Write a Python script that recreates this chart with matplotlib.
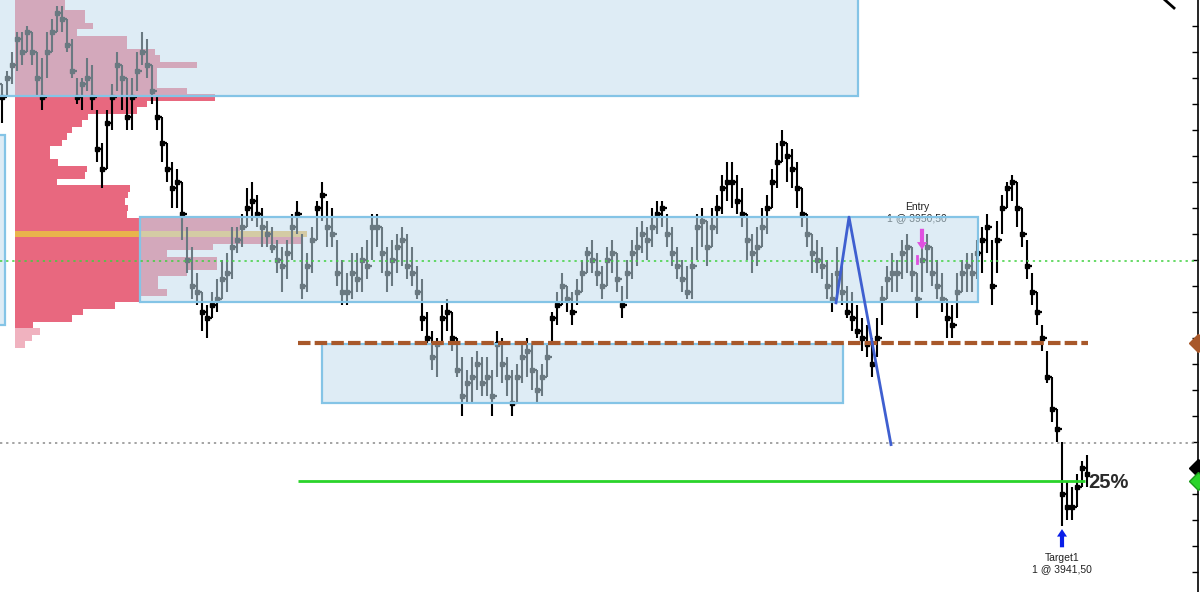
import numpy as np
import matplotlib
matplotlib.use('Agg')
import matplotlib.pyplot as plt
from matplotlib.patches import Rectangle
from matplotlib.lines import Line2D

plt.rcParams['font.family'] = ['Liberation Sans', 'DejaVu Sans']

# ---- price bars (ES, tick 0.25) ----
high = [3956.75, 3957.25, 3958.0, 3958.75, 3958.75, 3959.0, 3958.75, 3958.0, 3957.75, 3958.75,
        3959.25, 3959.75, 3959.75, 3959.25, 3958.5, 3957.0, 3957.0, 3957.75, 3957.5, 3955.75,
        3954.5, 3955.75, 3956.75, 3958.0, 3957.5, 3957.0, 3957.0, 3958.0, 3958.75, 3958.5,
        3957.5, 3956.25, 3955.5, 3954.5, 3953.75, 3953.5, 3953.0, 3951.25, 3950.5, 3949.5,
        3948.75, 3948.25, 3948.75, 3949.25, 3950.0, 3950.25, 3951.25, 3951.25, 3951.75, 3952.75,
        3953.0, 3952.5, 3952.0, 3951.5, 3951.25, 3950.75, 3950.5, 3950.75, 3951.75, 3952.25,
        3951.0, 3950.25, 3951.25, 3952.25, 3953.0, 3952.25, 3952.0, 3950.75, 3950.0, 3949.5,
        3950.25, 3950.25, 3950.5, 3950.75, 3951.75, 3951.75, 3951.25, 3950.5, 3950.75, 3951.0,
        3951.25, 3951.0, 3950.5, 3949.75, 3949.25, 3948.0, 3947.25, 3947.0, 3948.25, 3948.5,
        3948.0, 3947.0, 3946.25, 3945.75, 3946.25, 3946.5, 3946.25, 3946.25, 3945.75, 3947.25,
        3947.0, 3946.25, 3945.75, 3946.0, 3946.75, 3947.0, 3946.75, 3945.75, 3946.0, 3946.75,
        3948.0, 3948.75, 3949.5, 3949.0, 3948.75, 3949.25, 3950.0, 3950.5, 3950.75, 3950.25,
        3949.75, 3950.5, 3950.75, 3950.25, 3949.0, 3950.0, 3950.75, 3951.25, 3951.5, 3951.25,
        3952.0, 3952.25, 3952.25, 3951.75, 3951.25, 3950.5, 3950.0, 3949.75, 3950.5, 3951.75,
        3952.0, 3951.5, 3952.0, 3952.5, 3953.25, 3953.75, 3953.75, 3953.25, 3952.75, 3951.75,
        3951.0, 3951.25, 3952.0, 3952.5, 3953.5, 3954.5, 3955.0, 3954.5, 3954.25, 3953.75,
        3952.75, 3951.75, 3951.0, 3950.75, 3950.5, 3950.0, 3949.5, 3950.5, 3949.75, 3949.0,
        3948.75, 3948.25, 3947.75, 3947.5, 3947.0, 3947.75, 3949.0, 3949.75, 3950.25, 3950.0,
        3950.75, 3951.0, 3950.5, 3949.5, 3950.5, 3951.0, 3950.5, 3950.0, 3949.5, 3948.5,
        3948.25, 3949.5, 3950.0, 3950.25, 3950.25, 3950.75, 3951.25, 3951.75, 3950.75, 3951.5,
        3952.5, 3953.0, 3953.25, 3953.0, 3952.0, 3950.75, 3949.5, 3948.75, 3947.5, 3946.5,
        3945.5, 3944.25, 3943.0, 3941.5, 3941.25, 3941.75, 3942.25, 3942.5]
low = [3955.25, 3956.25, 3956.75, 3957.25, 3957.5, 3958.0, 3957.5, 3956.25, 3955.75, 3957.0,
       3958.0, 3958.75, 3958.75, 3958.0, 3957.0, 3956.0, 3955.75, 3956.5, 3955.75, 3953.75,
       3952.75, 3953.5, 3955.0, 3956.5, 3955.75, 3955.0, 3955.0, 3956.5, 3957.5, 3957.0,
       3956.0, 3955.0, 3953.75, 3953.0, 3952.0, 3952.0, 3950.75, 3949.5, 3948.5, 3948.25,
       3947.25, 3947.0, 3947.75, 3948.0, 3948.5, 3948.75, 3949.25, 3950.25, 3950.5, 3951.25,
       3951.5, 3951.25, 3950.5, 3950.5, 3950.25, 3949.5, 3948.75, 3949.25, 3950.0, 3951.0,
       3948.5, 3948.75, 3949.5, 3950.75, 3951.5, 3950.5, 3950.5, 3949.0, 3948.25, 3948.25,
       3948.5, 3948.75, 3948.75, 3949.25, 3950.0, 3950.5, 3949.5, 3948.75, 3949.0, 3949.5,
       3949.75, 3949.25, 3949.0, 3948.5, 3947.25, 3946.75, 3945.75, 3945.5, 3946.75, 3947.25,
       3946.5, 3945.5, 3944.0, 3944.5, 3944.5, 3945.0, 3944.75, 3944.75, 3944.0, 3945.5,
       3945.25, 3944.75, 3944.0, 3944.5, 3945.25, 3945.5, 3945.0, 3944.5, 3944.75, 3945.5,
       3946.75, 3947.5, 3948.25, 3948.0, 3947.5, 3948.25, 3948.75, 3949.5, 3949.5, 3949.0,
       3948.5, 3949.0, 3949.5, 3948.75, 3947.75, 3948.5, 3949.25, 3949.75, 3950.25, 3950.0,
       3950.5, 3951.0, 3951.25, 3950.5, 3949.75, 3949.25, 3948.75, 3948.5, 3948.5, 3950.0,
       3950.5, 3949.75, 3950.5, 3951.0, 3951.75, 3952.25, 3952.0, 3951.75, 3951.25, 3950.0,
       3949.5, 3949.75, 3950.5, 3951.0, 3952.0, 3952.75, 3953.75, 3953.0, 3952.75, 3952.0,
       3951.25, 3950.5, 3949.5, 3949.5, 3949.25, 3948.5, 3948.0, 3948.5, 3948.25, 3947.75,
       3947.25, 3947.0, 3946.5, 3946.25, 3945.5, 3946.25, 3947.5, 3948.5, 3948.75, 3948.75,
       3949.25, 3949.5, 3948.75, 3947.75, 3948.75, 3949.5, 3949.0, 3948.5, 3948.0, 3947.0,
       3947.0, 3947.75, 3948.75, 3948.75, 3948.75, 3949.25, 3949.5, 3950.25, 3948.25, 3949.5,
       3951.0, 3952.0, 3952.25, 3951.25, 3950.5, 3949.25, 3948.25, 3947.5, 3946.5, 3945.25,
       3943.75, 3943.0, 3939.75, 3940.0, 3940.0, 3940.5, 3941.25, 3941.25]
close = [3956.25, 3957.0, 3957.5, 3958.5, 3958.0, 3958.75, 3958.0, 3957.0, 3956.25, 3958.0,
         3958.75, 3959.5, 3959.25, 3958.25, 3957.25, 3956.25, 3956.75, 3957.0, 3956.25, 3954.25,
         3953.5, 3955.25, 3956.25, 3957.5, 3957.0, 3955.5, 3956.25, 3957.25, 3958.0, 3957.5,
         3956.5, 3955.5, 3954.5, 3953.5, 3952.75, 3953.0, 3951.75, 3950.0, 3949.0, 3948.75,
         3948.0, 3947.75, 3948.25, 3948.5, 3949.25, 3949.5, 3950.5, 3950.75, 3951.25, 3952.0,
         3952.25, 3951.75, 3951.25, 3951.0, 3950.5, 3950.0, 3949.75, 3950.25, 3951.25, 3951.75,
         3949.0, 3949.75, 3950.75, 3952.0, 3952.5, 3951.25, 3951.0, 3949.5, 3948.75, 3948.75,
         3949.5, 3949.25, 3950.0, 3949.75, 3951.25, 3951.25, 3950.25, 3949.5, 3950.0, 3950.5,
         3950.75, 3949.75, 3949.5, 3948.75, 3947.75, 3947.0, 3946.25, 3946.75, 3947.75, 3948.0,
         3947.0, 3945.75, 3944.75, 3945.25, 3945.5, 3946.0, 3945.25, 3945.5, 3944.75, 3946.75,
         3946.0, 3945.5, 3944.5, 3945.5, 3946.25, 3946.5, 3945.75, 3945.0, 3945.5, 3946.25,
         3947.75, 3948.25, 3949.0, 3948.5, 3948.0, 3948.75, 3949.5, 3950.25, 3950.0, 3949.5,
         3949.0, 3950.0, 3950.25, 3949.25, 3948.25, 3949.5, 3950.25, 3950.5, 3951.0, 3950.75,
         3951.25, 3951.75, 3952.0, 3951.0, 3950.25, 3949.75, 3949.25, 3948.75, 3949.75, 3951.25,
         3951.5, 3950.5, 3951.25, 3952.0, 3952.75, 3953.0, 3953.0, 3952.25, 3951.75, 3950.75,
         3950.25, 3950.5, 3951.25, 3952.0, 3953.0, 3953.75, 3954.5, 3954.0, 3953.5, 3952.75,
         3951.75, 3951.0, 3950.25, 3950.0, 3949.75, 3949.0, 3948.5, 3949.5, 3948.75, 3948.0,
         3947.75, 3947.25, 3947.0, 3946.75, 3946.0, 3947.0, 3948.5, 3949.25, 3949.5, 3949.5,
         3950.25, 3950.5, 3949.5, 3948.5, 3950.0, 3950.5, 3949.5, 3949.0, 3948.5, 3947.75,
         3947.5, 3948.75, 3949.5, 3949.75, 3949.5, 3950.25, 3950.75, 3951.25, 3949.0, 3950.75,
         3952.0, 3952.75, 3953.0, 3952.0, 3951.0, 3949.75, 3948.75, 3948.0, 3947.0, 3945.5,
         3944.25, 3943.5, 3941.0, 3940.5, 3940.5, 3941.25, 3942.0, 3941.75]

# ---- volume profile, one row per tick from 3960.00 down ----
profile_top = 3960.0
profile_vol = [50, 50, 70, 70, 78, 62, 112, 112, 140, 145, 182, 142, 142, 142, 172, 200, 132, 122,
               73, 67, 57, 52, 47, 35, 35, 43, 72, 70, 42, 115, 113, 110, 113, 112, 225, 225,
               292, 287, 198, 152, 202, 202, 172, 143, 143, 152, 125, 100, 68, 57, 18, 25, 17, 10]
value_area_low = 3947.5

# ---- zones (x0 bar, x1 bar, price low, price high) ----
zones = [(-6, 171.2, 3956.3, 3961.0),
         (27.6, 195.2, 3948.4, 3951.65),
         (64.0, 168.2, 3944.5, 3946.75),
         (-6, 0.6, 3947.5, 3954.8)]

brown_level = 3946.8
green_target = 3941.5
green_dotted = 3949.95
gray_dotted = 3942.95
zigzag_x = [166.8, 169.4, 177.8]
zigzag_y = [3948.35, 3951.65, 3942.9]
entry_bar, entry_price = 184, 3950.50
target_bar, target_price = 212, 3941.50

fig = plt.figure(figsize=(12, 5.92), dpi=100)
ax = fig.add_axes([0, 0, 1198 / 1200, 1])
ax.set_xlim(-0.4, 239.2)
ax.set_ylim(3960 - 592 / 26, 3960.0)

# profile
levels = profile_top - 0.25 * np.arange(len(profile_vol))
vol = np.array(profile_vol)
cols = ['#e8687f' if p >= value_area_low else '#f0b2bf' for p in levels]
poc = int(np.argmax(vol))
cols[poc] = '#e9b44c'
ax.barh(levels, vol / 5.0, left=2.6, height=0.25, color=cols, zorder=1)

# bars
xs = np.arange(len(close))
opens = [high[0]] + close[:-1]
ax.vlines(xs, low, high, color='black', lw=1.5, zorder=2)
ax.hlines(opens, xs - 0.35, xs, color='black', lw=1.6, zorder=2)
ax.plot(xs, close, 's', ms=2.2, color='black', zorder=2)

# zones
for x0, x1, y0, y1 in zones:
    ax.add_patch(Rectangle((x0, y0), x1 - x0, y1 - y0, facecolor=(195/255, 222/255, 237/255, 0.55),
                           edgecolor='#84c4e6', lw=1.6, zorder=3))

# levels
ax.axhline(green_dotted, color='#3fd13f', lw=1.1, ls=(0, (1.5, 2.5)), zorder=4)
ax.axhline(gray_dotted, color='#8a8a8a', lw=1.1, ls=(0, (1.5, 2.5)), zorder=4)
ax.hlines(brown_level, 59.2, 217.2, color='#a8582a', lw=3.0, ls=(0, (3, 1.0)), zorder=4)
ax.hlines(green_target, 59.2, 216.6, color='#2ad42a', lw=2.0, zorder=4)
ax.plot(zigzag_x, zigzag_y, color='#3f5fd0', lw=2.0, zorder=5)

# entry / target
arrow = 'simple,head_length=0.45,head_width=0.6,tail_width=0.25'
ax.annotate('', xy=(entry_bar, 3950.4), xytext=(entry_bar, 3951.2),
            arrowprops=dict(arrowstyle=arrow, mutation_scale=12, color='#e050e0', lw=0,
                            shrinkA=0, shrinkB=0), zorder=6)
ax.plot([entry_bar - 1, entry_bar - 1], [3949.9, 3950.15], color='#e050e0', lw=2, zorder=6)
ax.text(entry_bar - 1, 3952.05, 'Entry', ha='center', va='center', fontsize=7.5, color='#222222', zorder=6)
ax.text(entry_bar - 1, 3951.6, '1 @ 3950,50', ha='center', va='center', fontsize=7.5, color='#222222', zorder=2)

ax.annotate('', xy=(target_bar, 3939.65), xytext=(target_bar, 3938.95),
            arrowprops=dict(arrowstyle=arrow, mutation_scale=12, color='#0a1ee8', lw=0,
                            shrinkA=0, shrinkB=0), zorder=6)
ax.text(target_bar, 3938.55, 'Target1', ha='center', va='center', fontsize=7.5, color='#222222')
ax.text(target_bar, 3938.1, '1 @ 3941,50', ha='center', va='center', fontsize=7.5, color='#222222')
ax.text(217.3, 3941.45, '25%', ha='left', va='center', fontsize=14.5, fontweight='bold', color='#2a2a2a')

# price markers on the axis
ax.plot([239.2], [brown_level], marker='D', ms=9, color='#a8582a', clip_on=False, zorder=7)
ax.plot([239.2], [3942.0], marker='D', ms=9, color='black', clip_on=False, zorder=7)
ax.plot([239.2], [green_target], marker='D', ms=9, color='#2ad42a', mec='#1a9a1a', clip_on=False, zorder=7)

for s in ['top', 'left', 'bottom']:
    ax.spines[s].set_visible(False)
ax.spines['right'].set_color('black')
ax.spines['right'].set_linewidth(1.2)
ax.yaxis.tick_right()
ax.set_yticks(np.arange(3938.0, 3960.0, 1.0))
ax.tick_params(axis='y', direction='in', length=4, width=1, labelright=False)
ax.set_xticks([])

# small mark in the top right corner
fig.add_artist(Line2D([1165 / 1200, 1174 / 1200], [1.0, 584 / 592], color='black', lw=2))

fig.savefig('out.png', dpi=100)
